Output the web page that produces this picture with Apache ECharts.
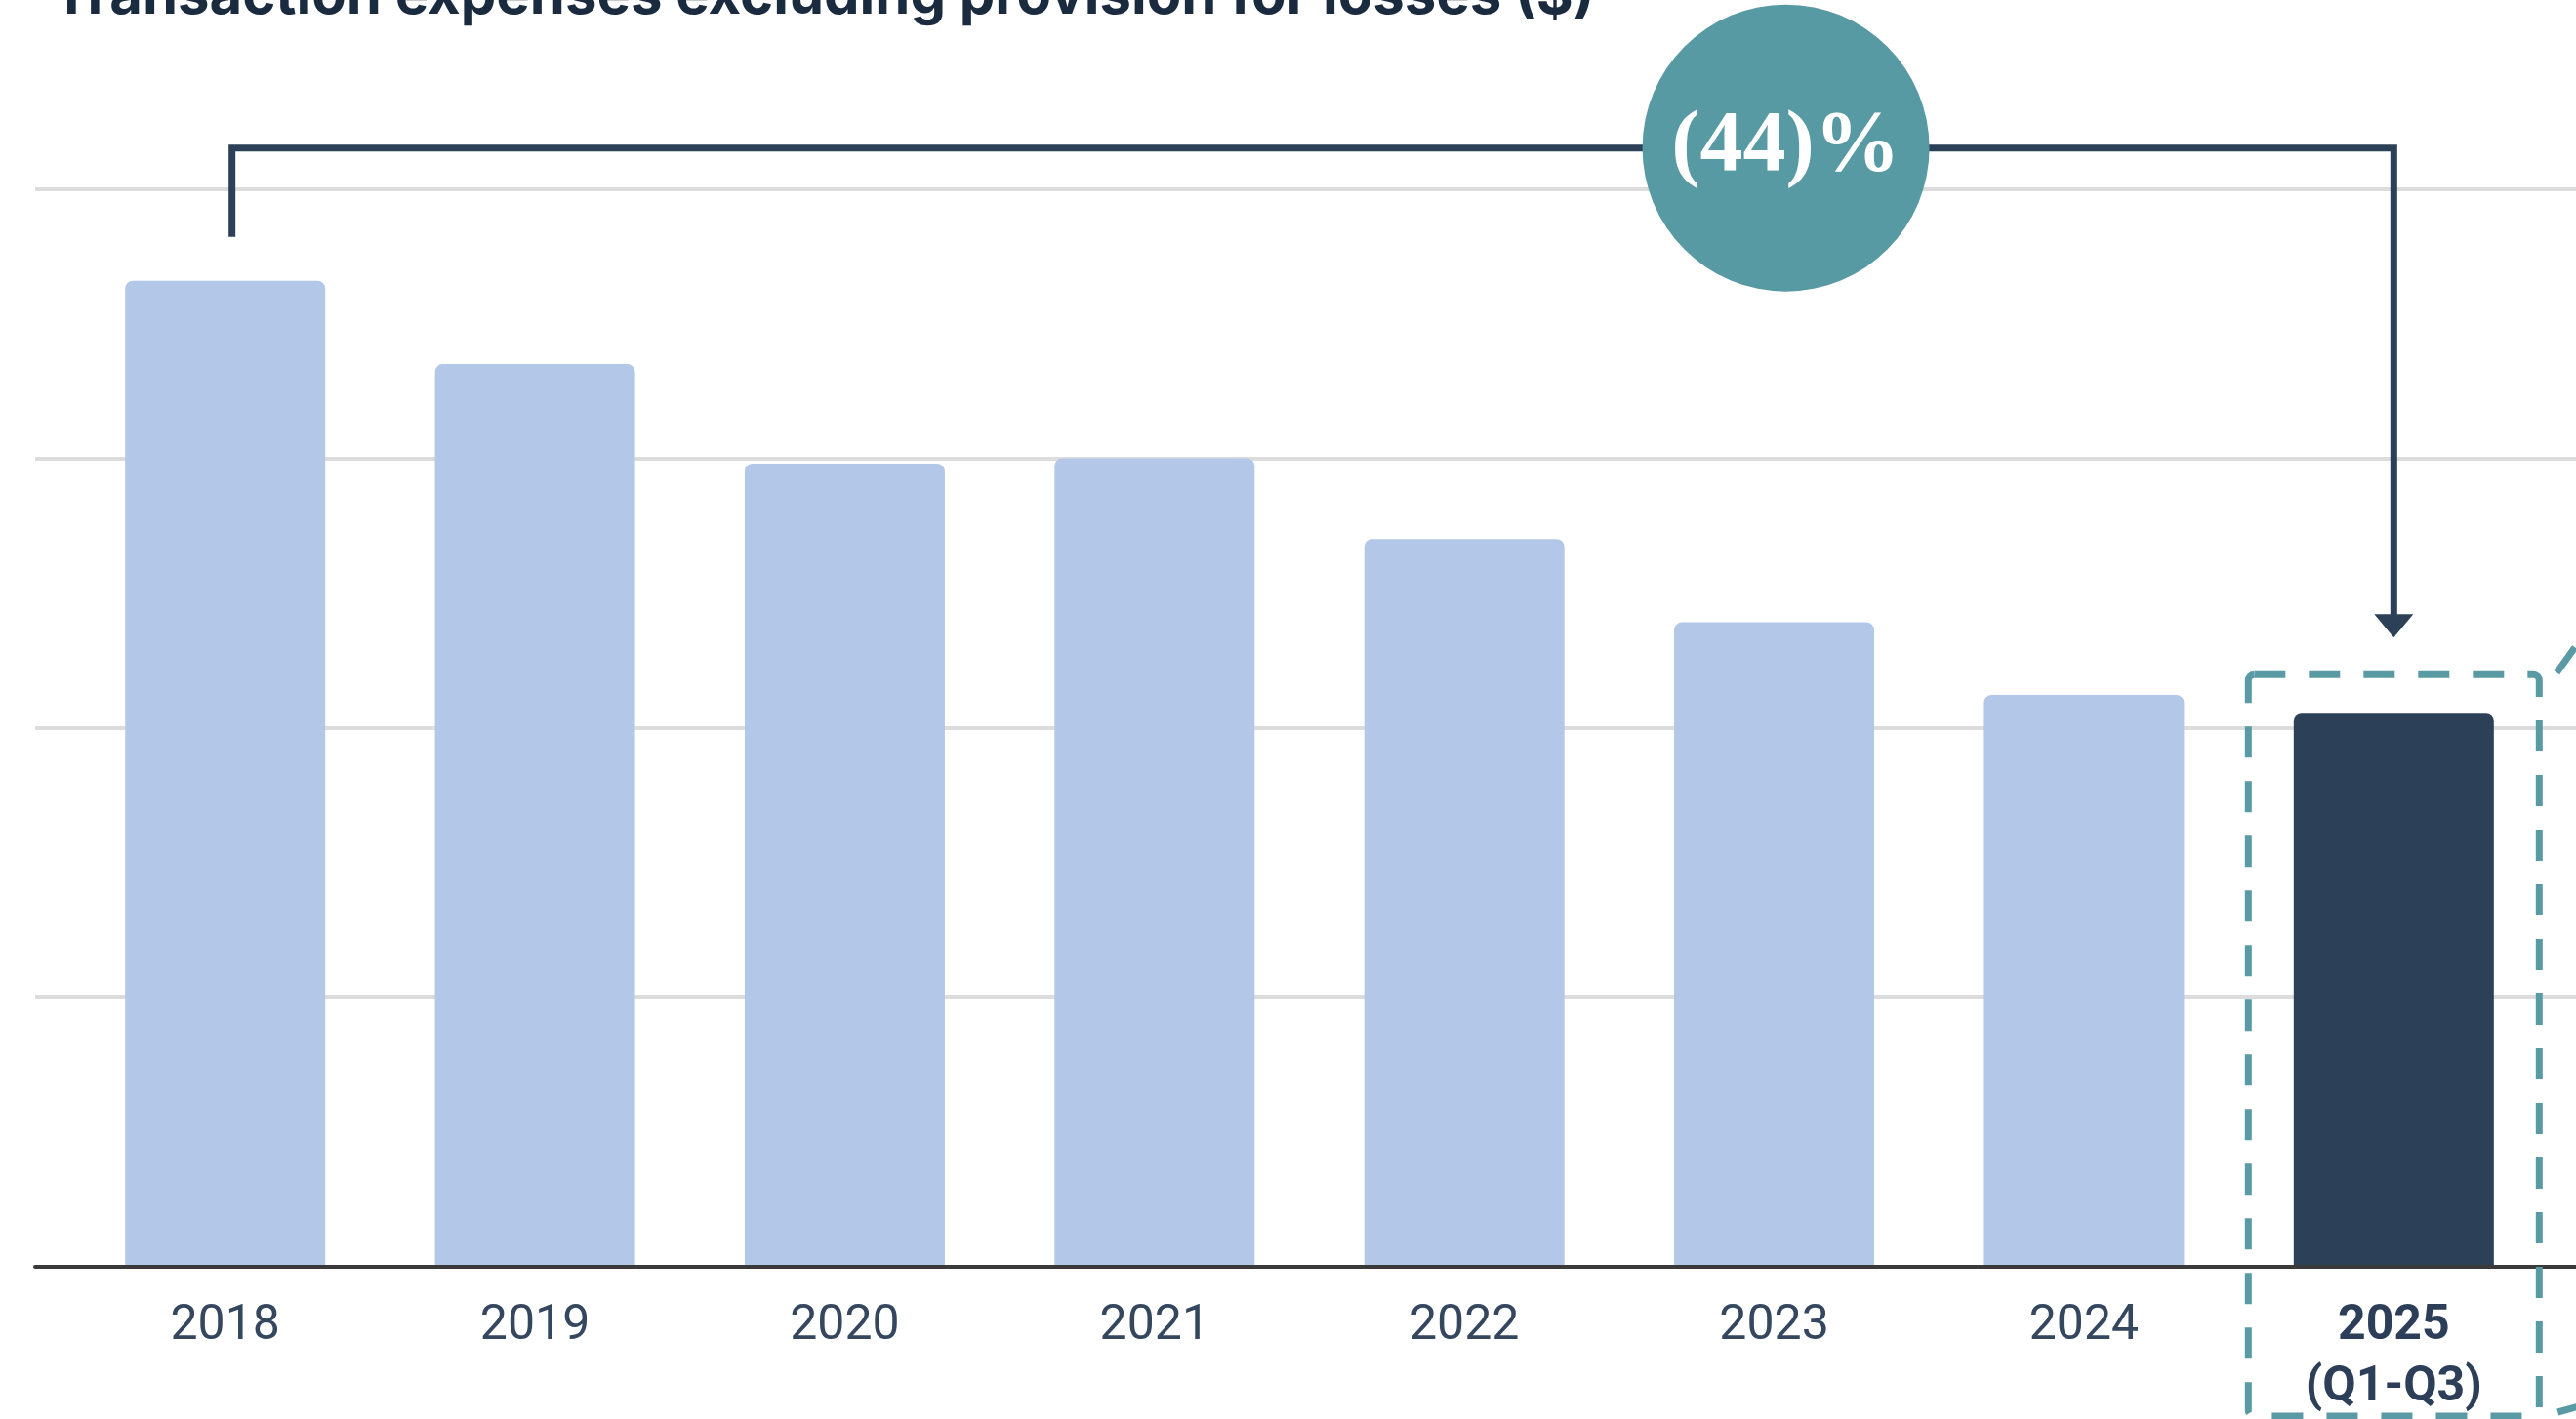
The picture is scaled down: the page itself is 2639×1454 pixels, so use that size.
<!DOCTYPE html>
<html>
<head>
<meta charset="utf-8">
<script src="https://cdn.jsdelivr.net/npm/echarts@6/dist/echarts.min.js"></script>
<style>
  html, body { margin: 0; padding: 0; background: #ffffff; }
  #chart { width: 2639px; height: 1454px; }
</style>
</head>
<body>
<div id="chart"></div>
<script>
// Transaction expenses excluding provision for losses, by year
const categories = ['2018', '2019', '2020', '2021', '2022', '2023', '2024', '2025\n(Q1-Q3)'];
const expenses = [3.66, 3.35, 2.98, 3.00, 2.70, 2.39, 2.12, 2.05];
const yTicks = [0, 1, 2, 3, 4];
const highlightIndex = categories.length - 1;
const titleText = 'Transaction expenses excluding provision for losses ($)';

const NAVY = '#2c4058';
const LIGHT = '#b3c8e8';
const TEAL = '#5a9aa4';
const TEXT = '#2d3f58';

// fit the heading to its intended width
const TITLE_FONT = 'Inter';
const TITLE_WIDTH = 1579;
const measureCtx = document.createElement('canvas').getContext('2d');
measureCtx.font = '700 100px ' + TITLE_FONT;
const titleSize = Math.round(100 * TITLE_WIDTH / measureCtx.measureText(titleText).width);

const chart = echarts.init(document.getElementById('chart'), null, { renderer: 'canvas' });

const yMin = yTicks[0];
const yMax = yTicks[yTicks.length - 1];
const yStep = yTicks[1] - yTicks[0];

chart.setOption({
  animation: false,
  backgroundColor: '#ffffff',
  grid: [
    // full-width frame: gridlines and the baseline
    { left: 36, right: 0, top: 194, bottom: 156 },
    // bars
    { left: 72, right: 28, top: 194, bottom: 156 }
  ],
  xAxis: [
    {
      gridIndex: 0,
      type: 'category',
      data: [''],
      z: 5,
      axisLine: { show: true, lineStyle: { color: '#3a3a3a', width: 4 } },
      axisTick: { show: false },
      axisLabel: { show: false },
      splitLine: { show: false }
    },
    {
      gridIndex: 1,
      type: 'category',
      data: categories,
      axisLine: { show: false },
      axisTick: { show: false },
      axisLabel: {
        interval: 0,
        margin: 32,
        fontFamily: 'Roboto',
        fontSize: 50,
        lineHeight: 63,
        color: '#34475f',
        formatter: function (value, idx) {
          if (idx === highlightIndex) {
            return value.split('\n').map(function (s) { return '{b|' + s + '}'; }).join('\n');
          }
          return value;
        },
        rich: {
          b: { fontFamily: 'Roboto', fontWeight: 'bold', fontSize: 50, lineHeight: 63, color: TEXT }
        }
      }
    }
  ],
  yAxis: [
    {
      gridIndex: 0,
      type: 'value',
      min: yMin, max: yMax, interval: yStep,
      axisLine: { show: false },
      axisTick: { show: false },
      axisLabel: { show: false },
      splitLine: { show: true, lineStyle: { color: '#dcdcdc', width: 4 } }
    },
    {
      gridIndex: 1,
      type: 'value',
      min: yMin, max: yMax, interval: yStep,
      axisLine: { show: false },
      axisTick: { show: false },
      axisLabel: { show: false },
      splitLine: { show: false }
    }
  ],
  series: [
    {
      type: 'bar',
      xAxisIndex: 1,
      yAxisIndex: 1,
      barWidth: 205,
      data: expenses.map(function (v, i) {
        return {
          value: v,
          itemStyle: { color: i === highlightIndex ? NAVY : LIGHT, borderRadius: [8, 8, 0, 0] }
        };
      })
    }
  ]
});

// Annotation: bracket from the first to the last bar with the overall change
function px(i, v) {
  return chart.convertToPixel({ xAxisIndex: 1, yAxisIndex: 1 }, [i, v]);
}
const first = px(0, expenses[0]);
const last = px(highlightIndex, expenses[highlightIndex]);
const change = Math.round((expenses[highlightIndex] / expenses[0] - 1) * 100);
const changeText = change < 0 ? '(' + Math.abs(change) + ')%' : change + '%';

const bracketY = first[1] - 136;
const leftX = first[0] + 7;
const rightX = last[0];
const arrowTip = last[1] - 78;
const circleX = px(5, 0)[0] + 12;

const boxLeft = last[0] - 149;
const boxRight = last[0] + 149;
const boxTop = last[1] - 40;
const boxBottom = 1451;

chart.setOption({
  graphic: [
    {
      type: 'text',
      z: 12,
      x: 54,
      y: 12 + Math.round(titleSize * 0.24),
      style: {
        text: titleText,
        fill: '#1a2a3f',
        fontFamily: TITLE_FONT,
        fontWeight: 700,
        fontSize: titleSize,
        align: 'left',
        verticalAlign: 'bottom'
      }
    },
    {
      type: 'polyline',
      z: 10,
      shape: { points: [[leftX, first[1] - 45], [leftX, bracketY], [rightX, bracketY], [rightX, arrowTip - 22]] },
      style: { stroke: NAVY, lineWidth: 7, fill: null, lineJoin: 'miter' }
    },
    {
      type: 'polygon',
      z: 10,
      shape: { points: [[rightX - 20, arrowTip - 24], [rightX + 20, arrowTip - 24], [rightX, arrowTip]] },
      style: { fill: NAVY }
    },
    {
      type: 'circle',
      z: 11,
      shape: { cx: circleX, cy: bracketY, r: 147 },
      style: { fill: '#579aa3' }
    },
    {
      type: 'text',
      z: 12,
      x: circleX,
      y: bracketY,
      style: {
        text: changeText,
        fill: '#ffffff',
        fontFamily: 'Liberation Serif',
        fontWeight: 'bold',
        fontSize: 88,
        align: 'center',
        verticalAlign: 'middle'
      }
    },
    {
      type: 'rect',
      z: 9,
      shape: { x: boxLeft, y: boxTop, width: boxRight - boxLeft, height: boxBottom - boxTop, r: 6 },
      style: { fill: null, stroke: TEAL, lineWidth: 7, lineDash: [32, 24] }
    },
    {
      type: 'line',
      z: 9,
      shape: { x1: boxRight + 18, y1: boxTop - 2, x2: boxRight + 80, y2: boxTop - 89 },
      style: { stroke: TEAL, lineWidth: 7, lineDash: [32, 24] }
    },
    {
      type: 'line',
      z: 9,
      shape: { x1: boxRight + 19, y1: boxBottom - 4, x2: boxRight + 100, y2: boxBottom - 26 },
      style: { stroke: TEAL, lineWidth: 7, lineDash: [32, 24] }
    }
  ]
});
</script>
</body>
</html>
